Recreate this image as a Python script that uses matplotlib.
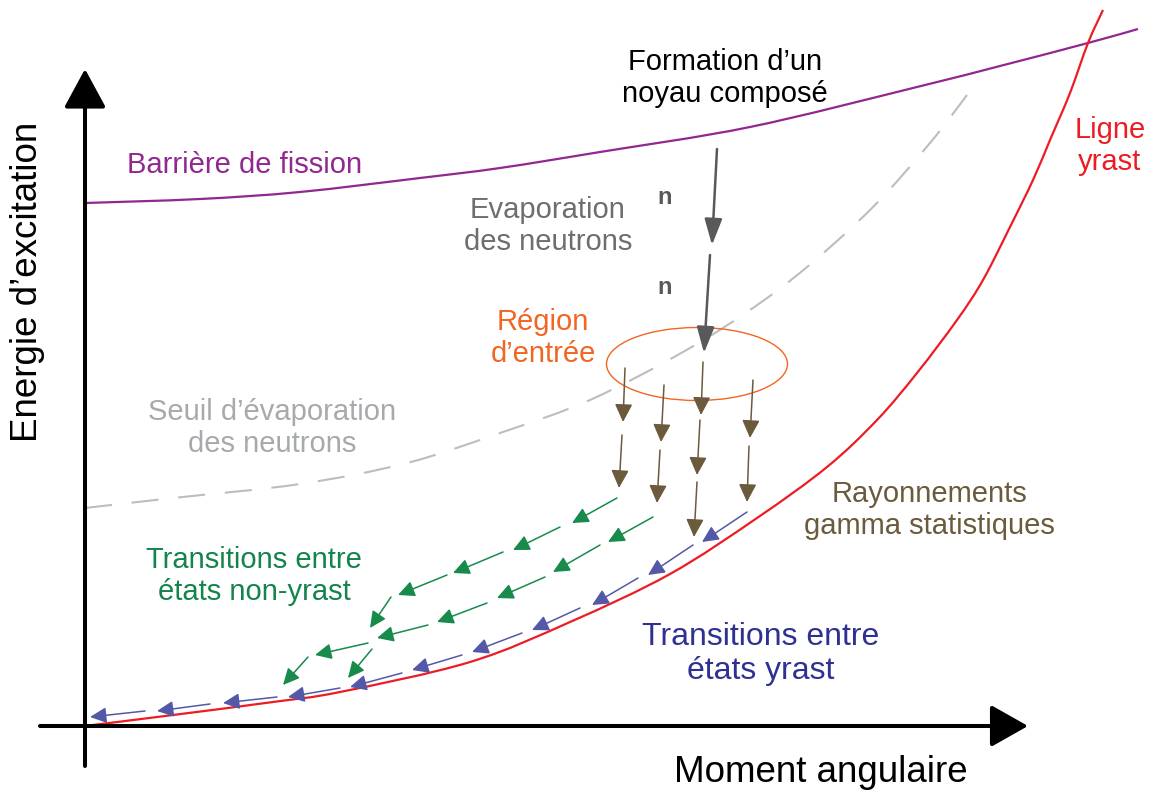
import matplotlib
matplotlib.use("Agg")
import matplotlib.pyplot as plt
from matplotlib.patches import Ellipse, PathPatch
from matplotlib.path import Path

# schematic: moment angulaire (x) vs energie d'excitation (y), arbitrary units
yrast_j = [0, 88, 188, 255, 385, 485, 585, 672, 742, 792, 832, 872, 898, 925, 948, 965, 985, 1003, 1018]
yrast_e = [0, 11, 24, 34, 64, 104, 152, 208, 259, 306, 353, 406, 446, 499, 546, 586, 633, 683, 716]

fission_j = [0, 115, 215, 335, 415, 515, 665, 832, 915, 1003, 1053]
fission_e = [523, 527, 534, 548, 558, 574, 599, 639, 660, 683, 697]

seuil_j = [0, 88, 215, 322, 415, 505, 598, 665, 722, 788, 845, 882]
seuil_e = [218, 228, 242, 263, 293, 326, 374, 416, 459, 519, 583, 631]

# region d'entree (centre, largeur, hauteur)
entree = (612, 362, 181, 73)

# arrows as (j_start, e_start, j_end, e_end)
neutrons = [(632, 577, 627, 481), (625, 471, 619, 373)]
n_labels = [(580, 529), (580, 439)]

gamma_stat = [
    (540, 358, 538, 304), (537, 291, 534, 238),
    (579, 341, 576, 284), (575, 276, 572, 223),
    (618, 364, 616, 311), (615, 306, 612, 251), (612, 244, 609, 189),
    (668, 346, 665, 288), (664, 280, 662, 224),
]

non_yrast = [
    (532, 228, 487, 203), (475, 199, 428, 176), (418, 174, 368, 153),
    (362, 151, 313, 131), (306, 129, 285, 98),
    (568, 209, 523, 184), (515, 181, 468, 154), (460, 149, 412, 128),
    (402, 123, 352, 104), (343, 101, 292, 88),
    (283, 83, 230, 71), (287, 77, 263, 48), (223, 69, 198, 41),
]

yrast_tr = [
    (662, 214, 617, 184), (608, 181, 563, 151), (553, 148, 507, 121),
    (495, 118, 447, 96), (437, 93, 387, 74), (377, 71, 327, 56),
    (317, 53, 265, 39), (255, 38, 203, 29), (192, 29, 138, 23),
    (125, 22, 72, 15), (60, 15, 5, 9),
]


def arrows(ax, segs, color, lw, hl, hw, ms=20):
    for j0, e0, j1, e1 in segs:
        ax.annotate("", xy=(j1, e1), xytext=(j0, e0),
                    arrowprops=dict(arrowstyle="-|>,head_length=%g,head_width=%g" % (hl, hw),
                                    color=color, lw=lw, shrinkA=0, shrinkB=0,
                                    mutation_scale=ms))


def smooth_curve(ax, xs, ys, **kw):
    # catmull-rom through the read points, drawn as bezier pieces
    pts = list(zip(xs, ys))
    ext = [pts[0]] + pts + [pts[-1]]
    verts = [pts[0]]
    codes = [Path.MOVETO]
    for i in range(1, len(ext) - 2):
        p0, p1, p2, p3 = ext[i - 1], ext[i], ext[i + 1], ext[i + 2]
        c1 = (p1[0] + (p2[0] - p0[0]) / 6, p1[1] + (p2[1] - p0[1]) / 6)
        c2 = (p2[0] - (p3[0] - p1[0]) / 6, p2[1] - (p3[1] - p1[1]) / 6)
        verts += [c1, c2, p2]
        codes += [Path.CURVE4] * 3
    ax.add_patch(PathPatch(Path(verts, codes), fill=False, **kw))


plt.rcParams["font.family"] = ["Liberation Sans", "DejaVu Sans"]

fig = plt.figure(figsize=(11.53, 7.92), dpi=100)
ax = fig.add_axes([0, 0, 1, 1])
ax.set_xlim(-85, 1068)
ax.set_ylim(-66, 726)
ax.axis("off")

# axes
arrows(ax, [(0, -40, 0, 657)], "black", 2.9, 1.2, 0.65)
arrows(ax, [(-45, 0, 943, 0)], "black", 2.9, 1.15, 0.65)

smooth_curve(ax, seuil_j, seuil_e, edgecolor="#BBBDBF", lw=1.5, linestyle=(0, (13, 9.5)))
smooth_curve(ax, fission_j, fission_e, edgecolor="#92278F", lw=1.6)
smooth_curve(ax, yrast_j, yrast_e, edgecolor="#ED1C24", lw=1.6)

cx, cy, w, h = entree
ax.add_patch(Ellipse((cx, cy), w, h, fill=False, edgecolor="#F26522", lw=1.0))

arrows(ax, neutrons, "#58595B", 1.8, 0.8, 0.27)
arrows(ax, gamma_stat, "#6B5A3C", 1.1, 0.55, 0.27)
arrows(ax, non_yrast, "#178A4C", 1.1, 0.5, 0.24)
arrows(ax, yrast_tr, "#5359A7", 1.1, 0.5, 0.24)

for x, y in n_labels:
    ax.text(x, y, "n", color="#58595B", fontsize=17, fontweight="bold", ha="center", va="center")

lab = dict(ha="center", va="center", linespacing=1.2, fontsize=21)
ax.text(-57, 444, "Energie d’excitation", rotation=90, fontsize=26.5, ha="center", va="center")
ax.text(736, -46, "Moment angulaire", fontsize=26.5, ha="center", va="center")
ax.text(160, 561, "Barrière de fission", color="#92278F", **lab)
ax.text(640, 648, "Formation d’un\nnoyau composé", color="black", **lab)
ax.text(1025, 580, "Ligne\nyrast", color="#ED1C24", **lab)
ax.text(463, 500, "Evaporation\ndes neutrons", color="#6D6E71", **lab)
ax.text(458, 388, "Région\nd’entrée", color="#F26522", **lab)
ax.text(187, 298, "Seuil d’évaporation\ndes neutrons", color="#A7A9AC", **lab)
ax.text(844, 216, "Rayonnements\ngamma statistiques", color="#6B5A3C", **lab)
ax.text(169, 150, "Transitions entre\nétats non-yrast", color="#13844C", **lab)
ax.text(676, 72, "Transitions entre\nétats yrast", color="#2E3192", ha="center", va="center",
        linespacing=1.2, fontsize=23)

fig.savefig("out.png", dpi=100)
